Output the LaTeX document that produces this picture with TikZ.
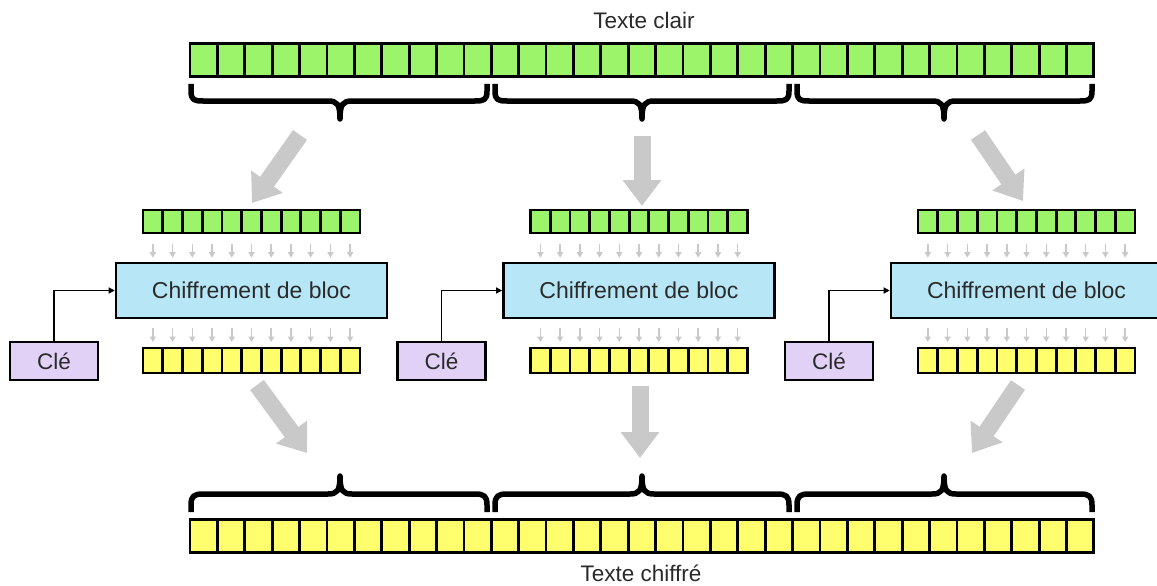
\documentclass[tikz,border=0pt]{standalone}
\usepackage{fontspec}
\setmainfont{Liberation Sans}
\usetikzlibrary{arrows.meta}
\definecolor{cgreen}{HTML}{9CF46A}
\definecolor{cyellow}{HTML}{FFFF6E}
\definecolor{cblue}{HTML}{B7E7F7}
\definecolor{cpurple}{HTML}{E2D1F7}
\definecolor{cgrey}{HTML}{C9C9C9}
\definecolor{ctext}{HTML}{2A2A2A}
\newcommand{\bracedn}[3]{%
  \draw[bracestyle] (#1,84) -- (#1,91) .. controls (#1,100) and (#1+3,101) .. (#1+12,101) -- (#2-12,101) .. controls (#2-3,101) and (#2,104) .. (#2,119) .. controls (#2,104) and (#2+3,101) .. (#2+12,101) -- (#3-12,101) .. controls (#3-3,101) and (#3,100) .. (#3,91) -- (#3,84);}
\newcommand{\braceup}[3]{%
  \draw[bracestyle] (#1,512) -- (#1,505) .. controls (#1,496) and (#1+3,494) .. (#1+12,494) -- (#2-12,494) .. controls (#2-3,494) and (#2,491) .. (#2,476) .. controls (#2,491) and (#2+3,494) .. (#2+12,494) -- (#3-12,494) .. controls (#3-3,494) and (#3,496) .. (#3,505) -- (#3,512);}
\begin{document}
\begin{tikzpicture}[x=1pt,y=-1pt,
  cell/.style={draw=black, line width=2.8pt, inner sep=0pt, outer sep=0pt},
  bigcell/.style={cell, minimum width=27.39pt, minimum height=33pt},
  smallcell/.style={cell, minimum width=19.73pt, minimum height=23pt},
  cipher/.style={draw=black, line width=2.6pt, fill=cblue, minimum width=271pt, minimum height=55pt, inner sep=0pt, text=ctext, font=\fontsize{23}{26}\selectfont},
  keybox/.style={draw=black, line width=2.6pt, fill=cpurple, minimum width=88pt, minimum height=38pt, inner sep=0pt, text=ctext, font=\fontsize{22.5}{26}\selectfont},
  title/.style={text=ctext, font=\fontsize{22.5}{26}\selectfont, inner sep=0pt},
  bracestyle/.style={draw=black, line width=5.5pt, line join=round},
  bigarrow/.style={draw=cgrey, line width=17pt, -{Triangle[width=37pt,length=26pt]}},
  smallarrow/.style={draw=cgrey, line width=1.5pt, -{Triangle[width=6pt,length=5.5pt]}},
  keyarrow/.style={draw=black, line width=1.3pt, -{Triangle[width=6pt,length=6pt]}}]
\useasboundingbox (0,0) rectangle (1157,586);
\fill[white] (0,0) rectangle (1157,586);
% titles
\node[title] (tclair) at (644,20) {Texte clair};
\node[title] (tchiffre) at (641,573) {Texte chiffré};
% long strips
\foreach \i in {1,...,33}{
  \node[bigcell, fill=cgreen] (top\i) at ({190+27.39*(\i-0.5)},60) {};
  \node[bigcell, fill=cyellow] (bot\i) at ({190+27.39*(\i-0.5)},536) {};
}
% braces
\bracedn{191}{340}{487}
\bracedn{495}{642}{789}
\bracedn{797}{944}{1092}
\braceup{191}{340}{487}
\braceup{495}{642}{789}
\braceup{797}{944}{1092}
% groups
\foreach \g/\dx in {1/0,2/387.5,3/775}{
  \node[cipher] (box\g) at (251.5+\dx,290.5) {Chiffrement de bloc};
  \node[keybox] (cle\g) at (54+\dx,361) {Clé};
  \draw[keyarrow] (cle\g.north) |- (box\g.west);
  \foreach \j in {1,...,11}{
    \node[smallcell, fill=cgreen] (gi\g-\j) at ({143+\dx+19.73*(\j-0.5)},221.5) {};
    \node[smallcell, fill=cyellow, minimum height=25pt] (go\g-\j) at ({143+\dx+19.73*(\j-0.5)},360.5) {};
    \draw[smallarrow, shorten <=11pt, shorten >=4pt] (gi\g-\j.south) -- (gi\g-\j.south |- box\g.north);
    \draw[smallarrow, shorten <=9pt, shorten >=6pt] (box\g.south -| go\g-\j.north) -- (go\g-\j.north);
  }
}
% big arrows
\coordinate (a1s) at (300,135); \coordinate (a1e) at (252,203);
\coordinate (a2s) at (642,136); \coordinate (a2e) at (642,206);
\coordinate (a3s) at (978,135); \coordinate (a3e) at (1023,201);
\coordinate (b1s) at (257,385); \coordinate (b1e) at (307,453);
\coordinate (b2s) at (640,386); \coordinate (b2e) at (640,458);
\coordinate (b3s) at (1018,385); \coordinate (b3e) at (972,453);
\draw[bigarrow] (a1s) -- (a1e);
\draw[bigarrow] (a2s) -- (a2e);
\draw[bigarrow] (a3s) -- (a3e);
\draw[bigarrow] (b1s) -- (b1e);
\draw[bigarrow] (b2s) -- (b2e);
\draw[bigarrow] (b3s) -- (b3e);
\end{tikzpicture}
\end{document}
